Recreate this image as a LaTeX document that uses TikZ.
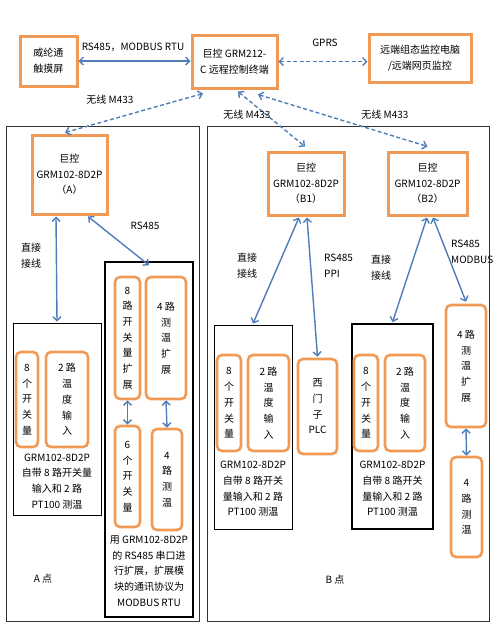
\documentclass[tikz,border=0pt]{standalone}
\usepackage{fontspec}
\setmainfont{Noto Sans CJK SC}
\usetikzlibrary{arrows.meta}
\definecolor{boxorange}{HTML}{F09A56}
\definecolor{linkblue}{HTML}{4F7DB8}

\begin{document}
\begin{tikzpicture}[x=1pt,y=-1pt,
  every node/.style={font=\fontsize{10}{15.7}\selectfont, align=center, inner sep=0pt},
  dev/.style={draw=boxorange, line width=3pt, fill=white},
  io/.style={draw=boxorange, line width=2.6pt, rounded corners=5pt},
  thinbox/.style={draw=black, line width=0.7pt},
  thickbox/.style={draw=black, line width=1.6pt},
  region/.style={draw=black!80, line width=0.8pt},
  link/.style={draw=linkblue, line width=1.4pt,
    {Straight Barb[length=4pt,width=8pt]}-{Straight Barb[length=4pt,width=8pt]}},
  wlink/.style={link, dash pattern=on 4pt off 2.5pt}]
\useasboundingbox (0,0) rectangle (495,630);

% point A / point B
\draw[region] (6,126) rectangle (199,621);
\draw[region] (207,126) rectangle (489,621);

\node[dev, minimum width=57pt, minimum height=50pt] (touch) at (48.5,61) {威纶通\\触摸屏};
\node[dev, minimum width=85pt, minimum height=53pt] (ctrl) at (234.5,61.5) {巨控 GRM212-\\C 远程控制终端};
\node[dev, minimum width=102pt, minimum height=48pt] (remote) at (420,58) {远端组态监控电脑\\/远端网页监控};

\node[dev, minimum width=75pt, minimum height=79pt] (A) at (69.5,174.5) {巨控\\GRM102-8D2P\\（A）};
\node[dev, minimum width=76pt, minimum height=63pt] (B1) at (306,183.5) {巨控\\GRM102-8D2P\\（B1）};
\node[dev, minimum width=79pt, minimum height=63pt] (B2) at (427.5,183.5) {巨控\\GRM102-8D2P\\（B2）};

% module boxes
\node[thinbox, minimum width=88pt, minimum height=192pt] (modA) at (57,419) {};
\node[thickbox, minimum width=88pt, minimum height=355pt] (extA) at (149,439.5) {};
\node[thinbox, minimum width=78pt, minimum height=204pt] (modB1) at (253,427) {};
\node[thickbox, minimum width=81pt, minimum height=205pt] (modB2) at (392.5,426.5) {};

% point A
\node[io, minimum width=22pt, minimum height=95pt] (aDI) at (27,399.5) {8\\个\\开\\关\\量};
\node[io, minimum width=42pt, minimum height=95pt] (aAI) at (67,399.5) {2 路\\温\\度\\输\\入};
\node (aText) at (57,481.5) {GRM102-8D2P\\自带 8 路开关量\\输入和 2 路\\PT100 测温};
\node[io, minimum width=25pt, minimum height=122pt] (aDIext) at (127.5,338) {8\\路\\开\\关\\量\\扩\\展};
\node[io, minimum width=40pt, minimum height=122pt] (aAIext) at (166,338) {4 路\\测\\温\\扩\\展};
\node[io, minimum width=25pt, minimum height=101pt] (aDO) at (127.5,476.5) {6\\个\\开\\关\\量};
\node[io, minimum width=30pt, minimum height=101pt] (aAI4) at (167,479.5) {4\\路\\测\\温};
\node (extText) at (149,571) {用 GRM102-8D2P\\的 RS485 串口进\\行扩展，扩展模\\块的通讯协议为\\MODBUS RTU};
\node (ptA) at (43,579) {A 点};

% point B
\node[io, minimum width=24pt, minimum height=96pt] (b1DI) at (229,403) {8\\个\\开\\关\\量};
\node[io, minimum width=41pt, minimum height=96pt] (b1AI) at (268.5,403) {2 路\\温\\度\\输\\入};
\node (b1Text) at (253,489) {GRM102-8D2P\\自带 8 路开关\\量输入和 2 路\\PT100 测温};
\node[io, minimum width=39pt, minimum height=95pt] (plc) at (317.5,406.5) {西\\门\\子\\PLC};
\node[io, minimum width=24pt, minimum height=96pt] (b2DI) at (366,403) {8\\个\\开\\关\\量};
\node[io, minimum width=40pt, minimum height=96pt] (b2AI) at (405,403) {2 路\\温\\度\\输\\入};
\node (b2Text) at (392.5,489) {GRM102-8D2P\\自带 8 路开关\\量输入和 2 路\\PT100 测温};
\node[io, minimum width=40pt, minimum height=122pt] (b2AIext) at (466,366) {4 路\\测\\温\\扩\\展};
\node[io, minimum width=31pt, minimum height=100pt] (b2AI4) at (466.5,507) {4\\路\\测\\温};
\node (ptB) at (335,580) {B 点};

% links
\draw[link] (touch.east) -- (touch.east -| ctrl.west);
\node at (133,47) {RS485，MODBUS RTU};
\draw[wlink] (ctrl.east) -- (ctrl.east -| remote.west);
\node at (325,43) {GPRS};

\draw[wlink] ([xshift=-31.5pt,yshift=-4pt]ctrl.south) -- ([xshift=-4.5pt,yshift=1pt]A.north);
\draw[wlink] ([xshift=3.5pt,yshift=-2pt]ctrl.south) -- ([xshift=-1pt,yshift=4pt]B1.north);
\draw[wlink] ([xshift=23.5pt,yshift=-5pt]ctrl.south) -- ([yshift=4pt]B2.north);
\node at (110,100) {无线 M433};
\node at (247,115) {无线 M433};
\node at (385,115) {无线 M433};

\draw[link] ([xshift=-13.5pt,yshift=-1pt]A.south) -- ([yshift=1pt]modA.north);
\node at (31,256) {直接\\接线};
\draw[link] ([xshift=18.5pt,yshift=-1pt]A.south) -- ([yshift=-4pt]extA.north);
\node at (145,226) {RS485};
\draw[link] (aDIext.south) -- (aDO.north);
\draw[link] (aAIext.south) -- (aAI4.north);

\draw[link] ([xshift=-7pt,yshift=-1pt]B1.south) -- ([yshift=1pt]modB1.north);
\node at (247,266) {直接\\接线};
\draw[link] ([xshift=1pt,yshift=-1pt]B1.south) -- ([yshift=1pt]plc.north);
\node[anchor=west, align=left] at (324,266) {RS485\\PPI};
\draw[link] ([xshift=-0.5pt,yshift=-1pt]B2.south) -- ([yshift=1pt]modB2.north);
\node at (381,268) {直接\\接线};
\draw[link] ([xshift=5.5pt,yshift=-1pt]B2.south) -- ([yshift=2pt]b2AIext.north);
\node[anchor=west, align=left] at (451,252) {RS485\\MODBUS};
\draw[link] (b2AIext.south) -- (b2AI4.north);
\end{tikzpicture}
\end{document}
